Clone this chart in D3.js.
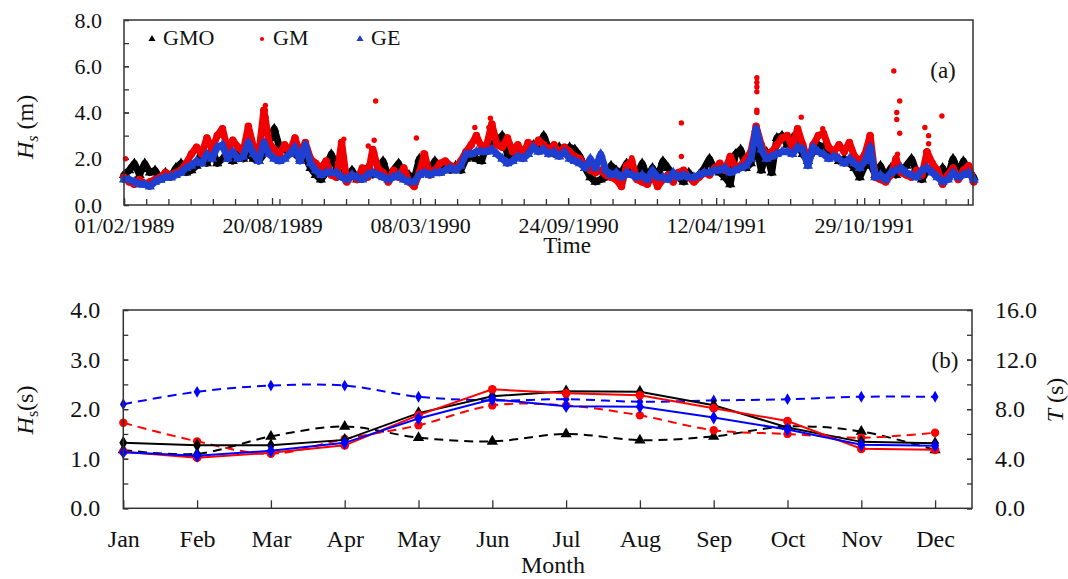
<!DOCTYPE html>
<html>
<head>
<meta charset="utf-8">
<script src="https://cdn.jsdelivr.net/npm/d3@7"></script>
<style>
  body { margin: 0; background: #fff; }
  svg { display: block; font-family: 'Liberation Serif', 'Times New Roman', serif; }
</style>
</head>
<body>
<div id="chart"></div>
<script>
// ── panel (a) data: weekly readings of Hs (m) from 01/02/1989 ─────
const START = '1989-02-01'
const END = '1992-03-24'
const STEP_DAYS = 7

const gmoWeekly = [
  1.3,1.5,1.8,1.3,1.8,1.4,1.5,1.1,1.4,1.2, 1.6,1.8,1.4,1.5,1.7,2.3,1.8,2.4,1.8,2.0,
  2.2,1.9,2.3,2.0,2.2,2.0,1.9,2.2,2.7,3.3, 2.5,2.4,2.3,2.2,2.0,2.1,1.6,1.3,1.1,1.4,
  2.2,1.6,1.3,1.2,1.5,1.1,1.4,1.6,1.3,1.5, 1.9,1.2,1.5,1.8,1.2,1.3,1.1,2.0,1.4,1.5,
  1.9,1.4,1.6,1.5,1.7,1.5,2.0,2.1,2.0,1.9, 2.6,2.6,2.8,3.0,2.2,2.0,2.1,2.2,2.4,2.6,
  2.5,3.0,2.4,2.2,2.5,2.3,2.5,2.4,2.1,1.6, 1.2,1.0,1.1,1.2,1.7,1.5,1.4,1.8,1.5,1.3,
  1.8,1.2,1.6,1.2,1.9,1.6,1.3,1.2,1.0,1.4, 1.1,1.3,1.6,2.0,1.5,1.4,1.2,0.9,2.2,2.4,
  1.6,1.8,2.6,1.5,2.3,1.4,2.9,3.0,2.6,2.9, 2.6,2.2,1.9,2.3,2.6,2.5,2.3,2.2,1.9,2.0,
  1.8,1.6,1.2,1.7,1.8,1.3,1.7,1.2,1.6,1.3, 1.5,1.7,2.0,1.4,1.1,1.5,1.6,1.3,1.6,1.2,
  2.0,1.4,1.9,1.5,1.2
]
const gmWeekly = [
  1.2,1.0,0.9,1.1,0.9,1.0,1.1,1.2,1.4,1.3, 1.4,1.5,1.8,2.2,2.5,2.2,2.9,2.4,3.0,3.3,
  2.4,2.8,2.5,2.3,3.4,2.5,2.2,4.1,2.7,2.4, 2.2,2.6,2.3,2.9,2.2,2.7,2.0,1.8,1.6,1.9,
  1.3,1.2,2.7,1.0,1.3,1.1,1.6,1.2,2.4,1.6, 1.4,1.0,1.5,1.2,1.6,1.0,0.8,1.4,2.2,1.3,
  1.5,1.8,1.9,1.7,1.6,1.9,2.3,2.6,3.0,2.5, 2.6,3.5,2.6,2.5,2.9,2.3,2.6,2.2,2.7,2.5,
  2.8,2.6,2.4,2.6,2.2,2.5,2.3,2.1,2.0,1.7, 1.5,1.4,1.5,1.3,1.2,1.1,0.8,1.7,1.9,1.1,
  1.0,0.9,1.3,0.8,1.1,1.3,1.0,1.4,1.5,1.2, 1.0,1.2,1.4,1.3,1.6,1.8,1.5,2.1,1.6,1.7,
  2.0,2.3,3.4,2.6,2.1,2.3,2.6,2.9,3.0,2.5, 3.3,2.6,1.9,2.6,3.0,3.1,2.5,2.3,2.6,2.3,
  2.7,2.1,1.9,2.2,3.0,1.2,1.1,1.0,1.3,2.0, 1.4,1.3,1.2,1.5,1.3,2.3,1.8,1.5,0.9,1.3,
  1.6,1.1,1.5,1.7,1.0
]
const geWeekly = [
  1.1,1.1,1.0,0.9,0.9,0.8,1.0,1.1,1.2,1.2, 1.3,1.4,1.6,1.7,1.9,1.8,2.2,2.0,2.5,2.6,
  2.0,2.3,2.0,2.1,2.7,2.2,1.9,2.7,2.2,2.0, 1.9,2.0,2.2,2.5,1.9,2.6,1.8,1.5,1.3,1.4,
  1.4,1.4,1.2,1.1,1.3,1.2,1.1,1.3,1.4,1.3, 1.2,1.1,1.2,1.3,1.1,1.0,1.0,1.3,1.4,1.3,
  1.4,1.4,1.5,1.6,1.5,1.7,2.2,2.2,2.3,2.3, 2.3,2.4,2.2,2.0,1.8,1.9,2.1,2.0,2.2,2.5,
  2.3,2.4,2.2,2.3,2.1,2.3,2.0,1.9,1.8,1.6, 2.0,1.6,2.2,1.5,1.3,1.4,1.2,1.4,1.3,1.2,
  1.3,1.1,1.5,1.2,1.2,1.1,1.4,1.2,1.3,1.2, 1.2,1.3,1.4,1.4,1.5,1.5,1.6,1.4,1.5,1.6,
  1.7,2.0,3.3,2.4,2.0,2.1,2.2,2.3,2.3,2.2, 2.5,2.4,1.7,2.5,2.3,2.2,2.0,2.1,2.0,1.8,
  2.0,1.8,1.6,1.9,2.5,1.2,1.3,1.1,1.4,1.5, 1.6,1.4,1.3,1.2,1.5,1.6,1.4,1.2,1.0,1.1,
  1.4,1.2,1.3,1.4,1.1
]
// isolated GM storm readings standing above the band
const gmPeaks = [
  ['1989-02-03', 2.0], ['1989-08-11', 4.3], ['1989-08-11', 4.1], ['1989-08-12', 3.8],
  ['1989-11-25', 2.85], ['1989-12-28', 2.55], ['1990-01-05', 2.8], ['1990-01-06', 2.25],
  ['1990-01-06', 2.1], ['1990-01-07', 4.5], ['1990-03-03', 2.9], ['1990-03-12', 2.25],
  ['1990-05-21', 3.35], ['1990-06-09', 3.35], ['1990-06-11', 3.75], ['1990-12-19', 2.05],
  ['1991-02-24', 3.55], ['1991-02-24', 2.1], ['1991-06-06', 5.5], ['1991-06-06', 5.3],
  ['1991-06-06', 5.1], ['1991-06-06', 4.9], ['1991-06-06', 4.1], ['1991-06-06', 4.0],
  ['1991-08-05', 3.8], ['1991-09-03', 3.3], ['1991-12-08', 5.8], ['1991-12-12', 4.0],
  ['1991-12-12', 3.7], ['1991-12-13', 2.2], ['1991-12-16', 4.5], ['1991-12-16', 3.1],
  ['1992-01-19', 3.35], ['1992-01-20', 2.3], ['1992-01-24', 3.0], ['1992-01-24', 2.65],
  ['1992-02-11', 3.85]
]
const hsTicksA = [0, 2, 4, 6, 8]
const labelEveryDays = 200
const minorEveryDays = 30

// ── panel (b) data: monthly means ─────────────────────────────────
const months = ['Jan','Feb','Mar','Apr','May','Jun','Jul','Aug','Sep','Oct','Nov','Dec']
const gmoHs = [1.32, 1.27, 1.27, 1.38, 1.92, 2.26, 2.36, 2.35, 2.08, 1.63, 1.34, 1.31]
const gmHs  = [1.14, 1.02, 1.12, 1.27, 1.88, 2.40, 2.32, 2.28, 2.02, 1.76, 1.20, 1.18]
const geHs  = [1.13, 1.06, 1.16, 1.32, 1.81, 2.20, 2.06, 2.05, 1.83, 1.59, 1.28, 1.26]
const gmoT  = [4.7, 4.4, 5.8, 6.6, 5.7, 5.4, 6.0, 5.5, 5.8, 6.6, 6.2, 4.7]
const gmT   = [6.9, 5.4, 4.4, 5.6, 6.7, 8.3, 8.3, 7.5, 6.3, 6.0, 5.7, 6.1]
const geT   = [8.4, 9.4, 9.9, 9.9, 9.0, 8.7, 8.8, 8.6, 8.7, 8.8, 9.0, 9.0]
const hsTicksB = [0, 1, 2, 3, 4]
const tTicksB = [0, 4, 8, 12, 16]

const AXIS = '#333'
const BLUE_A = '#1f3fd0'
const FONT = "'Liberation Serif', 'Times New Roman', serif"

const svg = d3.select('#chart').append('svg').attr('width', 1068).attr('height', 579)

function styleAxis(g) {
  g.attr('font-family', FONT)
  g.select('.domain').remove()
  g.selectAll('line').attr('stroke', AXIS).attr('stroke-width', 1.3)
  g.selectAll('text').attr('fill', '#111')
}

// ══ panel (a) ═════════════════════════════════════════════════════
const A = { left: 124, right: 973, top: 20, bottom: 205 }
const parse = d3.utcParse('%Y-%m-%d')
const t0 = parse(START), t1 = parse(END)
const weekDate = i => d3.utcDay.offset(t0, i * STEP_DAYS)

const xA = d3.scaleUtc().domain([t0, t1]).range([A.left, A.right])
const yA = d3.scaleLinear().domain([0, 8]).range([A.bottom, A.top])

const spanDays = d3.utcDay.count(t0, t1)
const labelDates = d3.range(0, spanDays, labelEveryDays).map(d => d3.utcDay.offset(t0, d))
const minorDates = d3.range(0, spanDays + 1, minorEveryDays).map(d => d3.utcDay.offset(t0, d))

const gA = svg.append('g')

gA.append('g').attr('transform', `translate(0,${A.bottom})`)
  .call(d3.axisBottom(xA).tickValues(minorDates).tickSize(-6).tickFormat(''))
  .call(styleAxis)
gA.append('g').attr('transform', `translate(0,${A.bottom})`)
  .call(d3.axisBottom(xA).tickValues(labelDates).tickSize(-7).tickPadding(12)
    .tickFormat(d3.utcFormat('%d/%m/%Y')))
  .call(styleAxis)
  .selectAll('text').style('font-size', '22px')

gA.append('g').attr('transform', `translate(${A.left},0)`)
  .call(d3.axisLeft(yA).ticks(8).tickSize(-5).tickFormat(''))
  .call(styleAxis)
gA.append('g').attr('transform', `translate(${A.left},0)`)
  .call(d3.axisLeft(yA).tickValues(hsTicksA).tickSize(-5).tickPadding(22).tickFormat(d3.format('.1f')))
  .call(styleAxis)
  .selectAll('text').style('font-size', '22px')

const seriesA = [
  { name: 'GMO', values: gmoWeekly, color: '#000', symbol: d3.symbolTriangle },
  { name: 'GM',  values: gmWeekly,  color: '#f00000', symbol: d3.symbolCircle },
  { name: 'GE',  values: geWeekly,  color: BLUE_A, symbol: d3.symbolTriangle },
]
const plotA = gA.append('g')
const lineA = d3.line().x((d, i) => xA(weekDate(i))).y(d => yA(d))

seriesA.forEach(s => {
  plotA.append('path').datum(s.values)
    .attr('d', lineA).attr('fill', 'none')
    .attr('stroke', s.color).attr('stroke-width', 7)
    .attr('stroke-linejoin', 'round').attr('stroke-linecap', 'round')
  plotA.append('g').selectAll('path').data(s.values).join('path')
    .attr('transform', (d, i) => `translate(${xA(weekDate(i))},${yA(d)})`)
    .attr('d', d3.symbol(s.symbol, 45)).attr('fill', s.color)
  if (s.name === 'GM') {
    plotA.append('g').selectAll('circle').data(gmPeaks).join('circle')
      .attr('cx', d => xA(parse(d[0]))).attr('cy', d => yA(d[1]))
      .attr('r', 2.7).attr('fill', s.color)
  }
})

gA.append('rect')
  .attr('x', A.left).attr('y', A.top)
  .attr('width', A.right - A.left).attr('height', A.bottom - A.top)
  .attr('fill', 'none').attr('stroke', AXIS).attr('stroke-width', 1.5)

// legend
const legendA = gA.append('g').attr('font-family', FONT)
const legendX = [152, 262, 360]
seriesA.forEach((s, i) => {
  legendA.append('path')
    .attr('transform', `translate(${legendX[i]},39)`)
    .attr('d', d3.symbol(s.symbol, s.symbol === d3.symbolCircle ? 14 : 22)).attr('fill', s.color)
  legendA.append('text').attr('x', legendX[i] + 11).attr('y', 45)
    .style('font-size', '22px').attr('fill', '#111').text(s.name)
})

gA.append('text').attr('x', 943).attr('y', 78).attr('text-anchor', 'middle')
  .style('font-size', '23px').attr('fill', '#111').text('(a)')

gA.append('text').attr('x', 567).attr('y', 253).attr('text-anchor', 'middle')
  .style('font-size', '23px').attr('fill', '#111').text('Time')

const yLabA = gA.append('text')
  .attr('transform', 'translate(33,127) rotate(-90)')
  .attr('text-anchor', 'middle').style('font-size', '24px').attr('fill', '#111')
yLabA.append('tspan').attr('font-style', 'italic').text('H')
yLabA.append('tspan').attr('font-style', 'italic').attr('font-size', '16px').attr('dy', 5).text('s')
yLabA.append('tspan').attr('dy', -5).text(' (m)')

// ══ panel (b) ═════════════════════════════════════════════════════
const B = { left: 123.3, right: 972, top: 310, bottom: 508.3 }
const xB = d3.scaleLinear().domain([0, 11.5]).range([B.left, B.right])
const yB = d3.scaleLinear().domain([0, 4]).range([B.bottom, B.top])
const yT = d3.scaleLinear().domain([0, 16]).range([B.bottom, B.top])

const gB = svg.append('g')

gB.append('g').attr('transform', `translate(0,${B.bottom})`)
  .call(d3.axisBottom(xB).tickValues(d3.range(months.length)).tickSize(-8).tickPadding(22)
    .tickFormat(i => months[i]))
  .call(styleAxis)
  .selectAll('text').style('font-size', '24px')

gB.append('g').attr('transform', `translate(${B.left},0)`)
  .call(d3.axisLeft(yB).ticks(8).tickSize(-5).tickFormat(''))
  .call(styleAxis)
gB.append('g').attr('transform', `translate(${B.left},0)`)
  .call(d3.axisLeft(yB).tickValues(hsTicksB).tickSize(-5).tickPadding(23).tickFormat(d3.format('.1f')))
  .call(styleAxis)
  .selectAll('text').style('font-size', '24px')

gB.append('g').attr('transform', `translate(${B.right},0)`)
  .call(d3.axisRight(yT).ticks(8).tickSize(-5).tickFormat(''))
  .call(styleAxis)
gB.append('g').attr('transform', `translate(${B.right},0)`)
  .call(d3.axisRight(yT).tickValues(tTicksB).tickSize(-5).tickPadding(23).tickFormat(d3.format('.1f')))
  .call(styleAxis)
  .selectAll('text').style('font-size', '24px')

const seriesB = [
  { values: gmoT, y: yT, color: '#000',    dashed: true,  symbol: d3.symbolTriangle, size: 55 },
  { values: gmT,  y: yT, color: '#ff0000', dashed: true,  symbol: d3.symbolCircle,   size: 55 },
  { values: geT,  y: yT, color: '#0000ff', dashed: true,  symbol: d3.symbolDiamond,  size: 40 },
  { values: gmoHs, y: yB, color: '#000',    dashed: false, symbol: d3.symbolDiamond, size: 55 },
  { values: gmHs,  y: yB, color: '#ff0000', dashed: false, symbol: d3.symbolCircle,  size: 60 },
  { values: geHs,  y: yB, color: '#0000ff', dashed: false, symbol: d3.symbolDiamond, size: 55 },
]
const plotB = gB.append('g')
seriesB.forEach(s => {
  const line = d3.line().x((d, i) => xB(i)).y(d => s.y(d))
    .curve(s.dashed ? d3.curveCatmullRom : d3.curveLinear)
  plotB.append('path').datum(s.values)
    .attr('d', line).attr('fill', 'none')
    .attr('stroke', s.color).attr('stroke-width', 2)
    .attr('stroke-dasharray', s.dashed ? '9 6' : null)
  plotB.append('g').selectAll('path').data(s.values).join('path')
    .attr('transform', (d, i) => `translate(${xB(i)},${s.y(d)})`)
    .attr('d', d3.symbol(s.symbol, s.size)).attr('fill', s.color)
})

gB.append('rect')
  .attr('x', B.left).attr('y', B.top)
  .attr('width', B.right - B.left).attr('height', B.bottom - B.top)
  .attr('fill', 'none').attr('stroke', AXIS).attr('stroke-width', 1.5)

gB.append('text').attr('x', 945).attr('y', 368).attr('text-anchor', 'middle')
  .style('font-size', '23px').attr('fill', '#111').text('(b)')

gB.append('text').attr('x', 553).attr('y', 573).attr('text-anchor', 'middle')
  .style('font-size', '24px').attr('fill', '#111').text('Month')

const yLabB = gB.append('text')
  .attr('transform', 'translate(33,410) rotate(-90)')
  .attr('text-anchor', 'middle').style('font-size', '24px').attr('fill', '#111')
yLabB.append('tspan').attr('font-style', 'italic').text('H')
yLabB.append('tspan').attr('font-size', '16px').attr('dy', 5).text('s')
yLabB.append('tspan').attr('dy', -5).text('(s)')

const tLab = gB.append('text')
  .attr('transform', 'translate(1063,400) rotate(-90)')
  .attr('text-anchor', 'middle').style('font-size', '24px').attr('fill', '#111')
tLab.append('tspan').attr('font-style', 'italic').text('T')
tLab.append('tspan').text(' (s)')
</script>
</body>
</html>
